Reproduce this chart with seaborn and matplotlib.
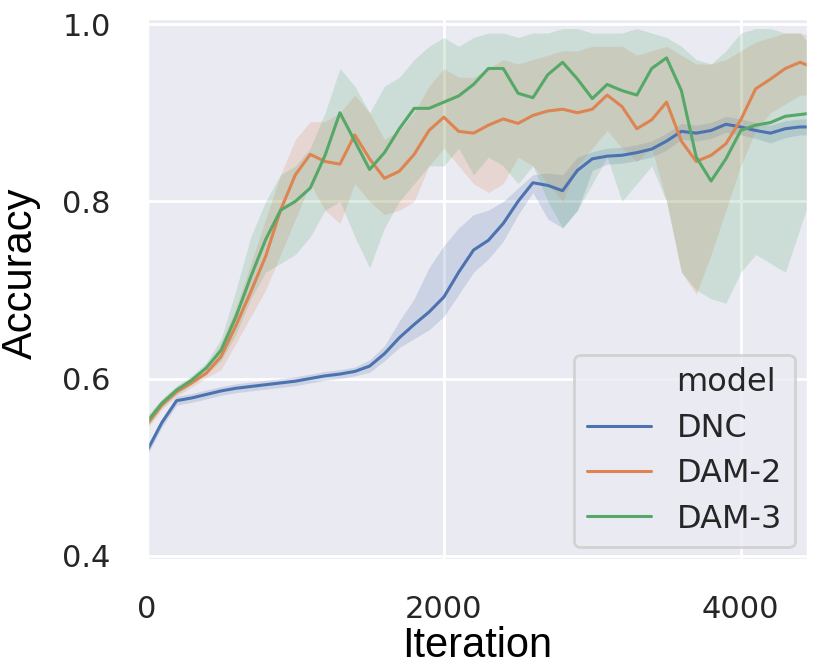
import numpy as np
import pandas as pd
import matplotlib
matplotlib.use("Agg")
import matplotlib.pyplot as plt
from matplotlib.lines import Line2D
import seaborn as sns

### data (every 100 iterations)
iterations = np.arange(0, 4600, 100)
models = ["DNC", "DAM-2", "DAM-3"]

dnc_mean = [0.518, 0.550, 0.575, 0.578, 0.582, 0.586, 0.589, 0.591, 0.593, 0.595,
            0.597, 0.600, 0.603, 0.605, 0.608, 0.614, 0.628, 0.646, 0.661, 0.675,
            0.692, 0.720, 0.745, 0.756, 0.775, 0.800, 0.821, 0.818, 0.812, 0.835,
            0.848, 0.851, 0.852, 0.855, 0.859, 0.868, 0.879, 0.877, 0.880, 0.887,
            0.884, 0.880, 0.877, 0.882, 0.884, 0.884]
dnc_low = [0.513, 0.545, 0.570, 0.573, 0.577, 0.581, 0.584, 0.586, 0.588, 0.590,
           0.592, 0.595, 0.598, 0.600, 0.603, 0.607, 0.620, 0.635, 0.645, 0.655,
           0.670, 0.695, 0.720, 0.735, 0.755, 0.785, 0.810, 0.780, 0.770, 0.790,
           0.835, 0.842, 0.843, 0.846, 0.850, 0.858, 0.870, 0.868, 0.871, 0.878,
           0.875, 0.871, 0.866, 0.872, 0.875, 0.875]
dnc_high = [0.523, 0.555, 0.580, 0.583, 0.587, 0.591, 0.594, 0.596, 0.598, 0.600,
            0.602, 0.605, 0.608, 0.610, 0.613, 0.621, 0.637, 0.665, 0.690, 0.725,
            0.750, 0.770, 0.785, 0.790, 0.800, 0.815, 0.830, 0.832, 0.830, 0.850,
            0.856, 0.860, 0.861, 0.864, 0.868, 0.877, 0.888, 0.886, 0.889, 0.896,
            0.893, 0.889, 0.886, 0.891, 0.893, 0.893]

dam2_mean = [0.548, 0.570, 0.585, 0.595, 0.606, 0.625, 0.660, 0.698, 0.738, 0.790,
             0.830, 0.853, 0.845, 0.842, 0.875, 0.848, 0.826, 0.834, 0.853, 0.880,
             0.895, 0.879, 0.877, 0.886, 0.893, 0.888, 0.897, 0.902, 0.904, 0.900,
             0.904, 0.920, 0.907, 0.882, 0.892, 0.912, 0.868, 0.845, 0.852, 0.865,
             0.892, 0.927, 0.938, 0.950, 0.957, 0.950]
dam2_low = [0.543, 0.565, 0.580, 0.590, 0.601, 0.610, 0.640, 0.670, 0.700, 0.740,
            0.780, 0.820, 0.790, 0.775, 0.820, 0.800, 0.785, 0.790, 0.800, 0.840,
            0.860, 0.840, 0.820, 0.810, 0.820, 0.850, 0.840, 0.820, 0.800, 0.840,
            0.860, 0.880, 0.860, 0.845, 0.860, 0.800, 0.720, 0.695, 0.740, 0.790,
            0.840, 0.880, 0.900, 0.910, 0.920, 0.920]
dam2_high = [0.553, 0.575, 0.590, 0.600, 0.612, 0.640, 0.680, 0.730, 0.780, 0.830,
             0.870, 0.890, 0.890, 0.900, 0.920, 0.900, 0.870, 0.880, 0.900, 0.930,
             0.950, 0.940, 0.940, 0.950, 0.960, 0.955, 0.960, 0.965, 0.970, 0.970,
             0.975, 0.975, 0.975, 0.965, 0.970, 0.975, 0.965, 0.955, 0.955, 0.960,
             0.970, 0.980, 0.985, 0.990, 0.990, 0.985]

dam3_mean = [0.551, 0.572, 0.587, 0.598, 0.612, 0.632, 0.670, 0.715, 0.757, 0.790,
             0.800, 0.815, 0.852, 0.900, 0.868, 0.836, 0.855, 0.882, 0.905, 0.905,
             0.912, 0.919, 0.932, 0.950, 0.950, 0.922, 0.917, 0.943, 0.957, 0.938,
             0.916, 0.932, 0.925, 0.920, 0.950, 0.962, 0.925, 0.850, 0.823, 0.848,
             0.880, 0.886, 0.889, 0.896, 0.898, 0.900]
dam3_low = [0.545, 0.567, 0.582, 0.593, 0.605, 0.620, 0.650, 0.690, 0.720, 0.730,
            0.740, 0.760, 0.790, 0.800, 0.760, 0.725, 0.770, 0.800, 0.820, 0.840,
            0.840, 0.860, 0.830, 0.850, 0.840, 0.820, 0.840, 0.800, 0.770, 0.790,
            0.820, 0.850, 0.800, 0.820, 0.840, 0.800, 0.720, 0.700, 0.690, 0.685,
            0.720, 0.740, 0.730, 0.720, 0.770, 0.820]
dam3_high = [0.558, 0.577, 0.592, 0.603, 0.618, 0.645, 0.700, 0.760, 0.800, 0.830,
             0.840, 0.860, 0.900, 0.950, 0.930, 0.900, 0.930, 0.940, 0.960, 0.975,
             0.985, 0.975, 0.985, 0.990, 0.990, 0.985, 0.990, 0.990, 0.995, 0.995,
             0.990, 0.990, 0.990, 0.995, 0.990, 0.985, 0.975, 0.960, 0.955, 0.970,
             0.990, 0.995, 0.995, 0.990, 0.990, 0.970]

means = {"DNC": dnc_mean, "DAM-2": dam2_mean, "DAM-3": dam3_mean}
lows = {"DNC": dnc_low, "DAM-2": dam2_low, "DAM-3": dam3_low}
highs = {"DNC": dnc_high, "DAM-2": dam2_high, "DAM-3": dam3_high}

df = pd.concat([pd.DataFrame({"Iteration": iterations, "Accuracy": means[m], "model": m})
                for m in models], ignore_index=True)

### plot
sns.set_theme(style="darkgrid", context="poster")
palette = sns.color_palette("deep", 3)

fig = plt.figure(figsize=(8.3, 6.66), dpi=100)
ax = fig.add_axes([0.177, 0.159, 0.796, 0.814])

for m, c in zip(models, palette):
    ax.fill_between(iterations, lows[m], highs[m], color=c, alpha=0.2, linewidth=0)

sns.lineplot(data=df, x="Iteration", y="Accuracy", hue="model", hue_order=models,
             palette=palette, linewidth=2.2, errorbar=None, ax=ax, legend=False)

ax.set_xlim(0, 4450)
ax.set_ylim(0.395, 1.007)
ax.set_xticks([0, 2000, 4000])
ax.set_yticks([0.4, 0.6, 0.8, 1.0])
ax.set_yticklabels(["0.4", "0.6", "0.8", "1.0"])
ax.tick_params(axis="x", labelsize=22, pad=13)
ax.tick_params(axis="y", labelsize=22, pad=14)

ax.set_xlabel("Iteration", fontsize=30, family="Liberation Sans", color="black")
ax.set_ylabel("Accuracy", fontsize=30, family="Liberation Sans", color="black")
ax.xaxis.set_label_coords(0.5, -0.122)
ax.yaxis.set_label_coords(-0.16, 0.53)

# old-style seaborn legend: hue name shown as an entry with no handle
handles = [Line2D([], [], color="none")] + [Line2D([], [], color=c, linewidth=2.2) for c in palette]
labels = ["model"] + models
ax.legend(handles, labels, loc="lower right", fontsize=23, handlelength=2.0,
          labelspacing=0.45, borderaxespad=0.4)

fig.savefig("out.png", dpi=100)
